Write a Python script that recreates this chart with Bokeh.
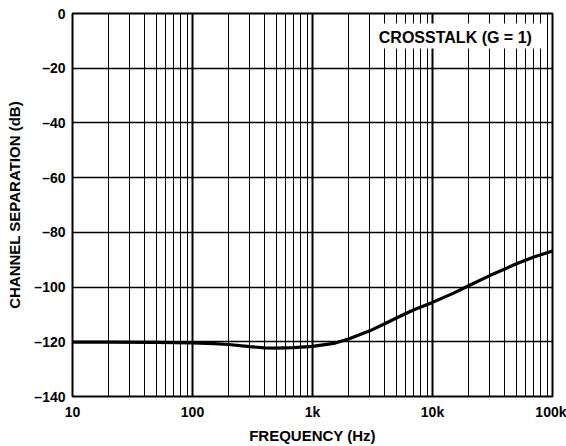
from bokeh.plotting import figure
from bokeh.models import FixedTicker, BoxAnnotation, Label
from bokeh.embed import file_html
from bokeh.resources import INLINE

# Data
freq_hz = [10, 20, 50, 100, 150, 200, 300, 400, 500, 700, 1000, 1500, 2000,
           3000, 4000, 5000, 7000, 10000, 15000, 20000, 30000, 50000, 70000, 100000]
separation_db = [-120.1, -120.1, -120.2, -120.4, -120.7, -121.0, -121.8, -122.2, -122.3,
                 -122.1, -121.7, -120.6, -119.0, -116.0, -113.4, -111.3, -108.3, -105.6,
                 -102.2, -99.5, -95.8, -91.5, -89.0, -86.8]

x_major = [10, 100, 1000, 10000, 100000]
x_labels = ["10", "100", "1k", "10k", "100k"]
x_minor = [m * d for d in [10, 100, 1000, 10000] for m in range(2, 10)]
y_major = [0, -20, -40, -60, -80, -100, -120, -140]
y_labels = ["0", "\u201320", "\u201340", "\u201360", "\u201380", "\u2013100", "\u2013120", "\u2013140"]

FONT = "Liberation Sans"

p = figure(width=566, height=446, x_axis_type="log", x_range=(10, 100000), y_range=(-140, 0),
           output_backend="svg", toolbar_location=None,
           min_border_left=72, min_border_right=14, min_border_top=13, min_border_bottom=50)

p.outline_line_color = "black"
p.outline_line_width = 2
p.background_fill_color = "white"
p.border_fill_color = "white"

# x axis
p.xaxis.ticker = FixedTicker(ticks=x_major, minor_ticks=x_minor)
p.xaxis.major_label_overrides = {float(v): l for v, l in zip(x_major, x_labels)}
p.xaxis.axis_label = "FREQUENCY (Hz)"
# y axis
p.yaxis.ticker = FixedTicker(ticks=y_major)
p.yaxis.major_label_overrides = {float(v): l for v, l in zip(y_major, y_labels)}
p.yaxis.axis_label = "CHANNEL SEPARATION (dB)"

for ax in (p.xaxis, p.yaxis):
    ax.major_tick_line_color = None
    ax.minor_tick_line_color = None
    ax.major_tick_out = 0
    ax.major_tick_in = 0
    ax.minor_tick_out = 0
    ax.minor_tick_in = 0
    ax.axis_line_color = None
    ax.major_label_text_font = FONT
    ax.major_label_text_font_style = "bold"
    ax.major_label_text_font_size = "14px"
    ax.major_label_text_color = "black"
    ax.axis_label_text_font = FONT
    ax.axis_label_text_font_style = "bold"
    ax.axis_label_text_font_size = "15px"
    ax.axis_label_text_color = "black"

p.xaxis.major_label_standoff = 7
p.xaxis.axis_label_standoff = 4
p.yaxis.major_label_standoff = 7
p.yaxis.axis_label_standoff = 8

# grids
p.xgrid.ticker = FixedTicker(ticks=x_major, minor_ticks=x_minor)
p.xgrid.grid_line_color = "black"
p.xgrid.grid_line_width = 2
p.xgrid.minor_grid_line_color = "black"
p.xgrid.minor_grid_line_width = 1
p.ygrid.ticker = FixedTicker(ticks=y_major)
p.ygrid.grid_line_color = "black"
p.ygrid.grid_line_width = 1.5

# curve
p.line(freq_hz, separation_db, line_color="black", line_width=3.2, line_join="round")

# annotation box
p.add_layout(BoxAnnotation(left=3050, right=82000, top=-3.7, bottom=-12.8,
                           fill_color="white", fill_alpha=1.0, line_color=None))
p.add_layout(Label(x=15500, y=-8.9, text="CROSSTALK (G = 1)", text_align="center",
                   text_baseline="middle", text_font=FONT, text_font_style="bold",
                   text_font_size="16px", text_color="black"))

open("out.html", "w").write(file_html(p, INLINE))
